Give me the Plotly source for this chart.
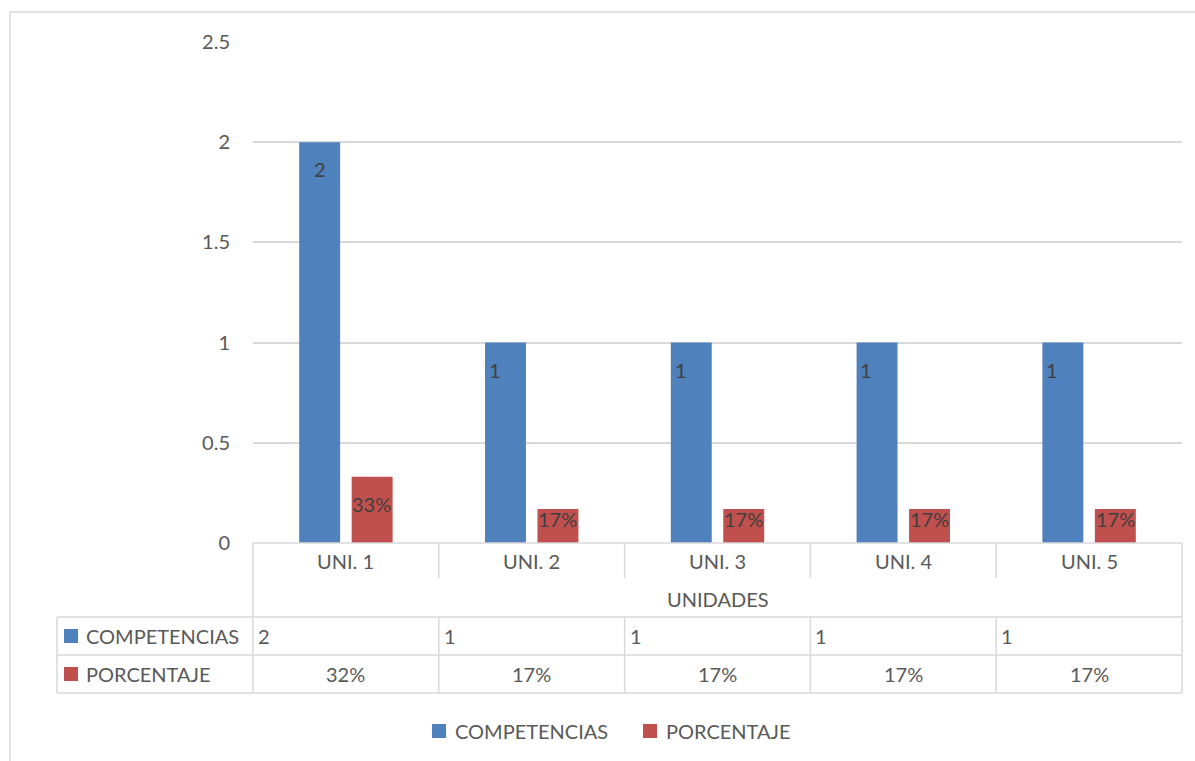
import plotly.graph_objects as go

# ---------------- data ----------------
categories = ["UNI. 1", "UNI. 2", "UNI. 3", "UNI. 4", "UNI. 5"]
competencias = [2, 1, 1, 1, 1]
porcentaje = [0.33, 0.17, 0.17, 0.17, 0.17]
porcentaje_labels = ["33%", "17%", "17%", "17%", "17%"]
table_comp = ["2", "1", "1", "1", "1"]
table_pct = ["32%", "17%", "17%", "17%", "17%"]
series_names = ["COMPETENCIAS", "PORCENTAJE"]
axis_title = "UNIDADES"
y_ticks = [0, 0.5, 1, 1.5, 2, 2.5]

# ---------------- style ----------------
W, H = 1195, 761
BLUE = "#4F81BD"
RED = "#C0504D"
GRID = "#D9D9D9"
TXT = "#595959"
LBL = "#404040"
FONT = "Lato"
FS = 20

# vertical calibration of the rendered page
Y0, HV = 13, 737

def xp(px):
    return px / W

def yp(py):
    return 1 - (py - Y0) / HV

PL, PR, PT, PB = 253, 1182, 42, 543  # plot area in pixels
col_w = (PR - PL) / len(categories)

fig = go.Figure()
fig.add_trace(go.Bar(x=categories, y=competencias, name=series_names[0],
                     marker=dict(color=BLUE, line=dict(width=0)), showlegend=False))
fig.add_trace(go.Bar(x=categories, y=porcentaje, name=series_names[1],
                     marker=dict(color=RED, line=dict(width=0)), showlegend=False))

annotations = []
shapes = []

# data labels on bars
bar_off = 26
comp_anchor = ["center", "left", "left", "left", "left"]
for i, c in enumerate(categories):
    v = competencias[i]
    anc = comp_anchor[i]
    annotations.append(dict(x=c, y=max(v - 0.135, 0.12), xref="x", yref="y",
                            text=str(v), showarrow=False, xanchor=anc, yanchor="middle",
                            xshift=-bar_off if anc == "center" else -bar_off - 19,
                            font=dict(family=FONT, size=FS, color=LBL)))
    p = porcentaje[i]
    annotations.append(dict(x=c, y=max(p - 0.135, 0.12), xref="x", yref="y",
                            text=porcentaje_labels[i], showarrow=False,
                            xanchor="center", yanchor="middle", xshift=bar_off,
                            font=dict(family=FONT, size=FS, color=LBL)))

# category labels (first table row)
for i, c in enumerate(categories):
    annotations.append(dict(x=c, y=yp(561), xref="x", yref="paper", text=c,
                            showarrow=False, xanchor="center", yanchor="middle",
                            font=dict(family=FONT, size=FS, color=TXT)))
# axis title
annotations.append(dict(x=xp((PL + PR) / 2), y=yp(599), xref="paper", yref="paper",
                        text=axis_title, showarrow=False, xanchor="center", yanchor="middle",
                        font=dict(family=FONT, size=FS, color=TXT)))

def line(x0, y0, x1, y1):
    shapes.append(dict(type="line", xref="paper", yref="paper",
                       x0=xp(x0), y0=yp(y0), x1=xp(x1), y1=yp(y1),
                       line=dict(color=GRID, width=1.5)))

# table grid
TL = 57
R1, R2, R3, R4, R5 = 543, 578, 617, 655, 693
line(PL, R1, PR, R1)
line(PL, R1, PL, R5)
line(PR, R1, PR, R5)
line(TL, R3, PR, R3)
line(TL, R4, PR, R4)
line(TL, R5, PR, R5)
line(TL, R3, TL, R5)
for k in range(1, len(categories)):
    xx = PL + k * col_w
    line(xx, R1, xx, R2)
    line(xx, R3, xx, R5)

# series rows
for row, (name, color, vals, centered) in enumerate([
        (series_names[0], BLUE, table_comp, False),
        (series_names[1], RED, table_pct, True)]):
    yc = (R3 + R4) / 2 if row == 0 else (R4 + R5) / 2
    shapes.append(dict(type="rect", xref="paper", yref="paper",
                       x0=xp(64), x1=xp(78), y0=yp(yc - 7), y1=yp(yc + 7),
                       fillcolor=color, line=dict(width=0)))
    annotations.append(dict(x=xp(84), y=yp(yc), xref="paper", yref="paper", text=name,
                            showarrow=False, xanchor="left", yanchor="middle",
                            font=dict(family=FONT, size=FS, color=TXT)))
    for i, v in enumerate(vals):
        if centered:
            annotations.append(dict(x=categories[i], y=yp(yc), xref="x", yref="paper",
                                    text=v, showarrow=False, xanchor="center",
                                    yanchor="middle",
                                    font=dict(family=FONT, size=FS, color=TXT)))
        else:
            annotations.append(dict(x=xp(PL + i * col_w + 3), y=yp(yc), xref="paper",
                                    yref="paper", text=v, showarrow=False,
                                    xanchor="left", yanchor="middle",
                                    font=dict(family=FONT, size=FS, color=TXT)))

# legend (manual)
LY = 731
for name, color, x_sq in [(series_names[0], BLUE, 432), (series_names[1], RED, 643)]:
    shapes.append(dict(type="rect", xref="paper", yref="paper",
                       x0=xp(x_sq), x1=xp(x_sq + 14), y0=yp(LY - 7), y1=yp(LY + 7),
                       fillcolor=color, line=dict(width=0)))
    annotations.append(dict(x=xp(x_sq + 21), y=yp(LY), xref="paper", yref="paper",
                            text=name, showarrow=False, xanchor="left", yanchor="middle",
                            font=dict(family=FONT, size=FS, color=TXT)))

# outer chart border
shapes.append(dict(type="rect", xref="paper", yref="paper",
                   x0=xp(10), x1=1.02, y0=-0.05, y1=yp(12),
                   line=dict(color=GRID, width=1.5), fillcolor="rgba(0,0,0,0)"))

fig.update_layout(
    width=W, height=H, autosize=False,
    margin=dict(l=0, r=0, t=0, b=0, pad=0),
    paper_bgcolor="white", plot_bgcolor="white",
    barmode="group", bargap=0.435, bargroupgap=0.22,
    font=dict(family=FONT, size=FS, color=TXT),
    xaxis=dict(domain=[xp(PL), xp(PR)], showticklabels=False, showgrid=False,
               zeroline=False, showline=False, ticks=""),
    yaxis=dict(domain=[yp(PB), min(1.0, yp(PT))], range=[0, 2.5], tickvals=y_ticks,
               showgrid=True, gridcolor=GRID, gridwidth=1.5, zeroline=False,
               showline=False, ticks="", ticklabelstandoff=22,
               tickfont=dict(family=FONT, size=FS, color=TXT)),
    annotations=annotations, shapes=shapes,
)

post = (
    "var h=document.documentElement,b=document.body;"
    "[h,b].forEach(function(e){e.style.margin='0';e.style.padding='0';"
    "e.style.overflow='hidden';});"
)

fig.write_html("out.html", config={"displayModeBar": False}, post_script=post)
